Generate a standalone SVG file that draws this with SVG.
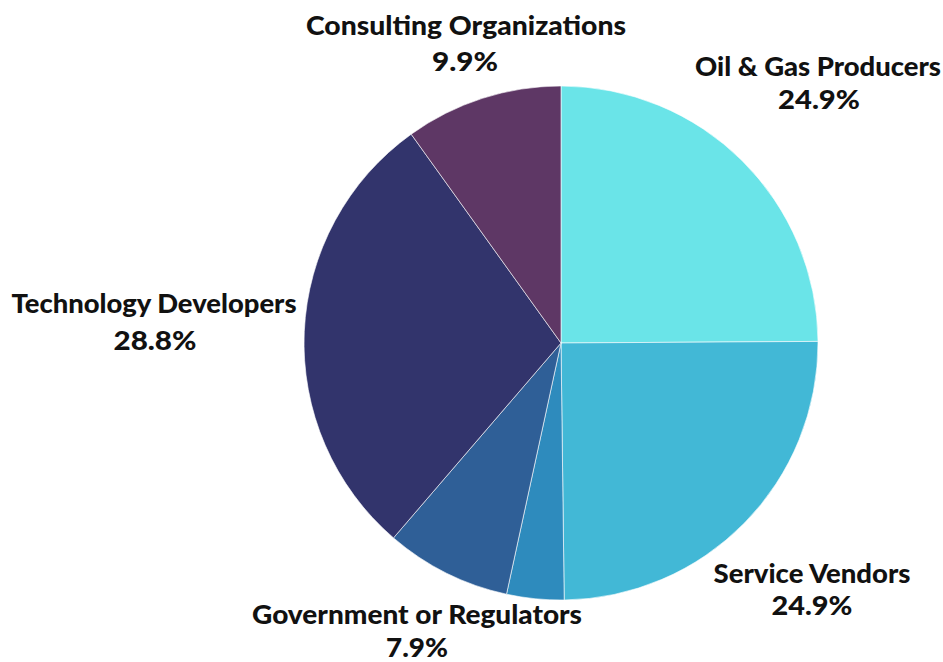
<svg xmlns="http://www.w3.org/2000/svg" width="943" height="662" viewBox="0 0 943 662">
<style>
.lbl{font-family:"Lato","Open Sans","Liberation Sans",sans-serif;font-weight:900;font-size:26px;fill:#111;text-anchor:middle}
.sl{stroke:#ffffff;stroke-width:0.6;stroke-linejoin:round}
</style>
<rect width="943" height="662" fill="#ffffff"/>
<g id="connectors"></g>
<g id="oil-gas">
<path class="sl" fill="#6ae4e8" d="M561,343 L561,86 A257,257 0 0 1 818,341.4 Z"/>
<text class="lbl" x="818" y="76" textLength="246" lengthAdjust="spacingAndGlyphs">Oil &amp; Gas Producers</text>
<text class="lbl" x="819" y="109" textLength="82" lengthAdjust="spacingAndGlyphs">24.9%</text>
</g>
<g id="service-vendors">
<path class="sl" fill="#42b8d6" d="M561,343 L818,341.4 A257,257 0 0 1 564.2,600 Z"/>
<text class="lbl" x="812" y="583" textLength="197" lengthAdjust="spacingAndGlyphs">Service Vendors</text>
<text class="lbl" x="812" y="615" textLength="81" lengthAdjust="spacingAndGlyphs">24.9%</text>
</g>
<g id="other">
<path class="sl" fill="#2e8bbd" d="M561,343 L564.2,600 A257,257 0 0 1 506.5,594.2 Z"/>
</g>
<g id="government">
<path class="sl" fill="#2f5f97" d="M561,343 L506.5,594.2 A257,257 0 0 1 393.5,537.9 Z"/>
<text class="lbl" x="417" y="624" textLength="330" lengthAdjust="spacingAndGlyphs">Government or Regulators</text>
<text class="lbl" x="417" y="657" textLength="62" lengthAdjust="spacingAndGlyphs">7.9%</text>
</g>
<g id="technology">
<path class="sl" fill="#32346c" d="M561,343 L393.5,537.9 A257,257 0 0 1 411.2,134.2 Z"/>
<text class="lbl" x="154" y="313" textLength="285" lengthAdjust="spacingAndGlyphs">Technology Developers</text>
<text class="lbl" x="155" y="350" textLength="83" lengthAdjust="spacingAndGlyphs">28.8%</text>
</g>
<g id="consulting">
<path class="sl" fill="#5e3765" d="M561,343 L411.2,134.2 A257,257 0 0 1 561,86 Z"/>
<text class="lbl" x="466" y="35" textLength="320" lengthAdjust="spacingAndGlyphs">Consulting Organizations</text>
<text class="lbl" x="465" y="71" textLength="66" lengthAdjust="spacingAndGlyphs">9.9%</text>
</g>
</svg>
